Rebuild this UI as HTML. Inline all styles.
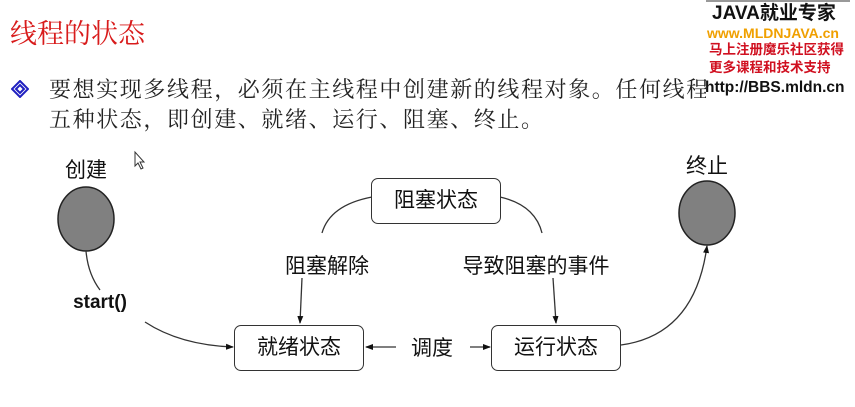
<!DOCTYPE html>
<html><head><meta charset="utf-8"><style>
body{margin:0;width:855px;height:407px;background:#fff;position:relative;overflow:hidden;font-family:"Liberation Sans","Noto Sans CJK SC",sans-serif}
.a{position:absolute;white-space:nowrap}
.t{font-family:"Liberation Serif","Noto Serif CJK SC",serif;font-size:22px;letter-spacing:1.6px;color:#222}
.box{position:absolute;border:1.5px solid #333;border-radius:7px;background:#fff;font-size:21px;text-align:center;color:#111;box-sizing:border-box}
.lab{position:absolute;font-size:21px;color:#111;white-space:nowrap;transform:translate(-50%,-50%)}
</style></head><body>
<div class="a" style="left:10px;top:12px;font-family:'Liberation Serif','Noto Serif CJK SC',serif;font-size:27px;color:#d81b1b">线程的状态</div>
<svg class="a" style="left:11px;top:80px" width="18" height="18"><path d="M9 1L17 9L9 17L1 9Z" fill="none" stroke="#2020c0" stroke-width="2"/><path d="M9 5L13 9L9 13L5 9Z" fill="none" stroke="#2020c0" stroke-width="2"/></svg>
<div class="a t" style="left:49px;top:73px">要想实现多线程，必须在主线程中创建新的线程对象。任何线程一般具有</div>
<div class="a t" style="left:49px;top:103px">五种状态，即创建、就绪、运行、阻塞、终止。</div>
<div class="a" style="left:706px;top:0;width:144px;height:100px;background:#fff;border-top:2px solid #999"></div>
<div class="a" style="left:712px;top:3px;font-size:19px;line-height:22px;font-weight:bold;color:#111">JAVA就业专家</div>
<div class="a" style="left:707px;top:25px;font-size:14px;line-height:16px;font-weight:bold;color:#f0a000">www.MLDNJAVA.cn</div>
<div class="a" style="left:709px;top:42px;font-size:13.5px;line-height:16px;font-weight:bold;color:#d01020">马上注册魔乐社区获得</div>
<div class="a" style="left:709px;top:60px;font-size:13.5px;line-height:16px;font-weight:bold;color:#d01020">更多课程和技术支持</div>
<div class="a" style="left:705px;top:79px;font-size:15.5px;line-height:18px;font-weight:bold;color:#111">http://BBS.mldn.cn</div>
<svg class="a" style="left:0;top:0" width="855" height="407">
<defs><marker id="m" markerWidth="8" markerHeight="8" refX="7" refY="4" orient="auto" markerUnits="userSpaceOnUse"><path d="M0 1L8 4L0 7Z" fill="#111"/></marker></defs>
<ellipse cx="86" cy="219" rx="28" ry="32" fill="#808080" stroke="#222" stroke-width="1.5"/>
<ellipse cx="707" cy="213" rx="28" ry="32" fill="#808080" stroke="#222" stroke-width="1.5"/>
<g fill="none" stroke="#333" stroke-width="1.3">
<path d="M86 251 Q88 274 100 290"/>
<path d="M145 322 Q180 345 233 347" marker-end="url(#m)"/>
<path d="M372 197 Q330 205 322 233"/>
<path d="M302 278 L300 323" marker-end="url(#m)"/>
<path d="M500 197 Q535 205 542 233"/>
<path d="M553 278 L556 323" marker-end="url(#m)"/>
<path d="M396 347 L366 347" marker-end="url(#m)"/>
<path d="M470 347 L490 347" marker-end="url(#m)"/>
<path d="M621 345 Q695 335 707 246" marker-end="url(#m)"/>
</g>
<path d="M135 152 L135 166 L138 163 L141 169 L143 168 L140 162 L144 162 Z" fill="#fff" stroke="#333" stroke-width="1"/>
</svg>
<div class="lab" style="left:86px;top:169px">创建</div>
<div class="lab" style="left:707px;top:165px">终止</div>
<div class="box" style="left:371px;top:178px;width:130px;height:46px;line-height:43px">阻塞状态</div>
<div class="box" style="left:234px;top:325px;width:130px;height:46px;line-height:43px">就绪状态</div>
<div class="box" style="left:491px;top:325px;width:130px;height:46px;line-height:43px">运行状态</div>
<div class="lab" style="left:327px;top:265px">阻塞解除</div>
<div class="lab" style="left:536px;top:265px">导致阻塞的事件</div>
<div class="lab" style="left:100px;top:303px;font-weight:bold;font-size:19px">start()</div>
<div class="lab" style="left:432px;top:347px">调度</div>
</body></html>
